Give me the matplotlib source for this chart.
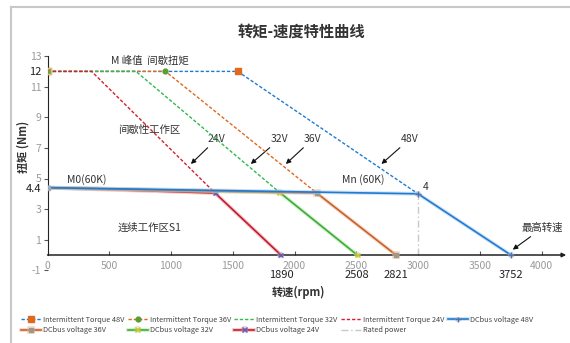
import matplotlib
matplotlib.use("Agg")
import matplotlib.pyplot as plt
import matplotlib.patheffects as pe
from matplotlib.lines import Line2D

plt.rcParams['font.family'] = ['Noto Sans CJK SC', 'DejaVu Sans']

# ---- data -------------------------------------------------------------
peak_torque = 12.0
m0_torque = 4.4

it48_speed = [0, 1540, 3000]
it48_torque = [12, 12, 4.0]
it36_speed = [0, 955, 2180]
it36_torque = [12, 12, 4.05]
it32_speed = [0, 716, 1881]
it32_torque = [12, 12, 4.08]
it24_speed = [0, 357, 1357]
it24_torque = [12, 12, 4.05]

dc48_speed = [0, 3000, 3752]
dc48_torque = [4.4, 4.0, 0]
dc36_speed = [0, 2180, 2821]
dc36_torque = [4.4, 4.05, 0]
dc32_speed = [0, 1881, 2508]
dc32_torque = [4.4, 4.08, 0]
dc24_speed = [0, 1357, 1890]
dc24_torque = [4.4, 4.05, 0]

rated_speed = [3000, 3000]
rated_torque = [0, 4.0]

x_ticks = [0, 500, 1000, 1500, 2000, 2500, 3000, 3500, 4000]
y_ticks = [-1, 1, 3, 5, 7, 9, 11, 13]
y_marks = [12, 4.4]
max_speeds = [1890, 2508, 2821, 3752]

# ---- colours ----------------------------------------------------------
BLUE = '#1f7ad2'
ORANGE = '#e0691e'
GREEN = '#2fba4c'
RED = '#d3202e'

fig = plt.figure(figsize=(5.7, 3.43), dpi=100)
W, H = 570, 343
ax = fig.add_axes([47.5 / W, 1 - 270.3 / H, 518.7 / W, (270.3 - 56.1) / H])
ax.set_xlim(0, 4200)
ax.set_ylim(-1, 13)

# outer card border
fig.add_artist(Line2D([11 / W, 11 / W], [0, 1 - 7 / H], color='#c8c8c8', lw=1.5))
fig.add_artist(Line2D([11 / W, 1], [1 - 7 / H, 1 - 7 / H], color='#c8c8c8', lw=1.5))

dash = (0, (2.4, 1.4))
h_it48, = ax.plot(it48_speed, it48_torque, color=BLUE, lw=1.0, ls=dash,
                  marker='s', ms=4, mfc=ORANGE, mec=ORANGE, markevery=[0, 1],
                  label='Intermittent Torque 48V', zorder=3)
h_it36, = ax.plot(it36_speed, it36_torque, color=ORANGE, lw=1.0, ls=dash,
                  marker='o', ms=3.5, mfc='#5c9e2e', mec='#5c9e2e', markevery=[0, 1],
                  label='Intermittent Torque 36V', zorder=4)
h_it32, = ax.plot(it32_speed, it32_torque, color=GREEN, lw=1.0, ls=dash,
                  label='Intermittent Torque 32V', zorder=5)
h_it24, = ax.plot(it24_speed, it24_torque, color=RED, lw=1.0, ls=dash,
                  label='Intermittent Torque 24V', zorder=6)


def halo(c):
    return [pe.Stroke(linewidth=2.8, foreground=c, alpha=0.45), pe.Normal()]


h_dc24, = ax.plot(dc24_speed, dc24_torque, color='#c21c2c', lw=1.2,
                  marker='x', ms=3.5, mec='#4a62c0', markevery=[1, 2],
                  label='DCbus voltage 24V', path_effects=halo('#e48c98'), zorder=7)
h_dc32, = ax.plot(dc32_speed, dc32_torque, color='#3aae36', lw=1.2,
                  marker='x', ms=3.5, mec='#e0c020', markevery=[1, 2],
                  label='DCbus voltage 32V', path_effects=halo('#a6de98'), zorder=8)
h_dc36, = ax.plot(dc36_speed, dc36_torque, color='#c8602c', lw=1.2,
                  marker='s', ms=3, mfc='#9a9a88', mec='#9a9a88', markevery=[1, 2],
                  label='DCbus voltage 36V', path_effects=halo('#efb08c'), zorder=9)
h_dc48, = ax.plot(dc48_speed, dc48_torque, color=BLUE, lw=1.2,
                  marker='+', ms=4, mec='#5a6ea0', label='DCbus voltage 48V',
                  path_effects=halo('#9cc4ea'), zorder=10)
h_rated, = ax.plot(rated_speed, rated_torque, color='#c8c8c8', lw=1.0,
                   ls=(0, (5, 2, 1, 2)), label='Rated power', zorder=2)
ax.plot([0], [m0_torque], marker='s', ms=3.5, color='#9aa8b8', zorder=11)
ax.plot([0], [peak_torque], marker='s', ms=4, mfc='#7a9a40', mec='#e0c080', zorder=11)

# ---- axes styling -----------------------------------------------------
for s in ['top', 'right']:
    ax.spines[s].set_visible(False)
ax.spines['left'].set_bounds(0, 13)
ax.spines['left'].set_color('#222222')
ax.spines['bottom'].set_position(('data', 0))
ax.spines['bottom'].set_visible(False)
ax.annotate('', xy=(4200, 0), xytext=(0, 0), annotation_clip=False,
            arrowprops=dict(arrowstyle='-|>', lw=1.1, color='#222222',
                            mutation_scale=6, shrinkA=0, shrinkB=0))

ax.set_xticks(x_ticks)
ax.set_xticklabels([str(v) for v in x_ticks])
ax.tick_params(axis='x', direction='in', length=3, pad=4, labelsize=7.5,
               labelcolor='#9a9a9a', color='#555555')

ax.set_yticks(y_ticks + y_marks)
ax.set_yticklabels([str(v) for v in y_ticks] + ['12', '4.4'])
ax.tick_params(axis='y', direction='out', length=3, pad=1.5, labelsize=7.5,
               labelcolor='#9a9a9a', color='#555555')
for lbl in ax.get_yticklabels()[-2:]:
    lbl.set_color('#222222')
    lbl.set_fontsize(8)
ax.yaxis.get_major_ticks()[-1].tick1line.set_visible(False)
ax.yaxis.get_major_ticks()[-2].tick1line.set_visible(False)

for v in max_speeds:
    ax.text(v, -1.3, str(v), ha='center', va='center', fontsize=8,
            color='#222222', clip_on=False)

# ---- text -------------------------------------------------------------
fig.text(301 / W, 1 - 32 / H, '转矩-速度特性曲线', ha='center', va='center',
         fontsize=11, fontweight='bold', color='#333333')
fig.text(23 / W, 1 - 147 / H, '扭矩 (Nm)', rotation=90, ha='center', va='center',
         fontsize=8, fontweight='bold', color='#333333')
fig.text(298 / W, 1 - 292 / H, '转速(rpm)', ha='center', va='center',
         fontsize=8, fontweight='bold', color='#333333')

txt = dict(fontsize=7.5, color='#333333', ha='center', va='center')
ax.text(829, 12.68, 'M 峰值  间歇扭矩', **txt)
ax.text(821, 8.17, '间歇性工作区', **txt)
ax.text(320, 4.9, 'M0(60K)', **txt)
ax.text(2553, 4.9, 'Mn (60K)', **txt)
ax.text(3062, 4.44, '4', **txt)
ax.text(829, 1.77, '连续工作区S1', **txt)

arrow = dict(arrowstyle='-|>', lw=0.8, color='#111111', mutation_scale=7,
             shrinkA=1, shrinkB=0)
for label, tx, tip in [('24V', 1370, 1161), ('32V', 1881, 1646),
                       ('36V', 2148, 1930), ('48V', 2933, 2704)]:
    ax.annotate(label, xy=(tip, 5.95), xytext=(tx, 7.58), arrowprops=arrow,
                **txt)
ax.annotate('最高转速', xy=(3767, 0.35), xytext=(4009, 1.77), arrowprops=arrow,
            annotation_clip=False, **txt)

# ---- legend -----------------------------------------------------------
order = [h_it48, h_dc36, h_it36, h_dc32, h_it32, h_dc24, h_it24, h_rated, h_dc48]
fig.legend(handles=order, labels=[h.get_label() for h in order], ncol=5,
           loc='upper left', bbox_to_anchor=(21 / W, 1 - 316 / H),
           frameon=False, fontsize=5.3, handlelength=2.7, handletextpad=0.3,
           columnspacing=0.45, labelspacing=0.3, borderpad=0, borderaxespad=0,
           labelcolor='#444444')

fig.savefig('out.png', dpi=100)
